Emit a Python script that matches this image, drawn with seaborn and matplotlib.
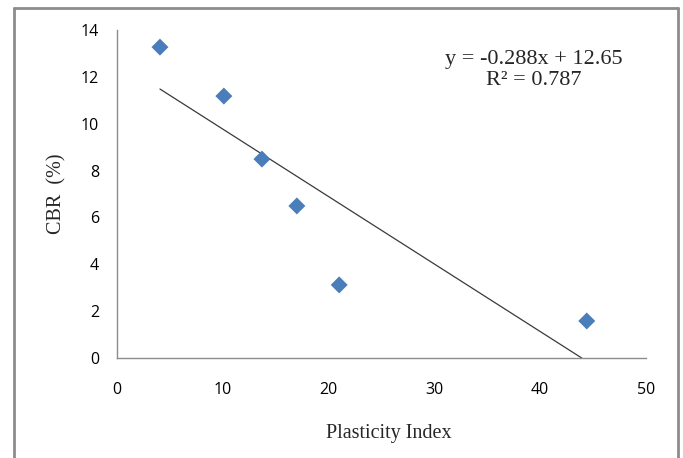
import numpy as np
import pandas as pd
import matplotlib
matplotlib.use("Agg")
import matplotlib.pyplot as plt
import seaborn as sns
from matplotlib.lines import Line2D

plasticity_index = [4.06, 10.1, 13.7, 17.0, 21.0, 44.4]
cbr = [13.27, 11.18, 8.49, 6.49, 3.12, 1.58]
slope = -0.288
intercept = 12.65
r_squared = 0.787

df = pd.DataFrame({"PI": plasticity_index, "CBR": cbr})

sns.set_style("white")
fig = plt.figure(figsize=(6.83, 4.58), dpi=100)
ax = fig.add_axes([117 / 683, 100 / 458, 529 / 683, 328 / 458])

# trendline over the data range, clipped at y = 0
x_start = min(plasticity_index)
x_end = -intercept / slope
ax.plot([x_start, x_end], [slope * x_start + intercept, slope * x_end + intercept],
        color="#3a3a3a", lw=0.9)

sns.scatterplot(data=df, x="PI", y="CBR", marker="D", s=75, color="#4a7ebb",
                edgecolor="none", ax=ax, zorder=3)

ax.set_xlim(0, 50)
ax.set_ylim(0, 14)
ax.set_xticks(range(0, 51, 10))
ax.set_yticks(range(0, 15, 2))

for side in ["top", "right"]:
    ax.spines[side].set_visible(False)
for side in ["left", "bottom"]:
    ax.spines[side].set_color("#8c8c8c")
    ax.spines[side].set_linewidth(1.0)

ax.tick_params(axis="both", direction="out", length=5, width=1, color="#8c8c8c",
               labelsize=11.5, labelcolor="#000000", pad=4)
ax.tick_params(axis="x", pad=12)
ax.tick_params(axis="y", pad=8)
for lbl in ax.get_xticklabels() + ax.get_yticklabels():
    lbl.set_family("Open Sans")

ax.set_xlabel("Plasticity Index", family="Liberation Serif", fontsize=14.5, labelpad=19)
ax.xaxis.set_label_coords(0.513, -0.2, transform=ax.transAxes)
ax.xaxis.label.set_va("top")
ax.set_ylabel("CBR  (%)", family="Liberation Serif", fontsize=14.5, labelpad=10)

eq = f"y = {slope}x + {intercept}\nR² = {r_squared}"
ax.text(0.788, 0.938, eq, transform=ax.transAxes, ha="center", va="top",
        family="Liberation Serif", fontsize=16, linespacing=1.1)

# grey frame around the chart area (no bottom edge, as in the picture)
frame = dict(color="#8c8c8c", lw=2.0, transform=fig.transFigure)
x0, x1, y1 = 14 / 683, 678 / 683, 1 - 8 / 458
fig.add_artist(Line2D([x0, x0], [0, y1], **frame))
fig.add_artist(Line2D([x0, x1], [y1, y1], **frame))
fig.add_artist(Line2D([x1, x1], [0, y1], **frame))

fig.savefig("out.png", dpi=100)
